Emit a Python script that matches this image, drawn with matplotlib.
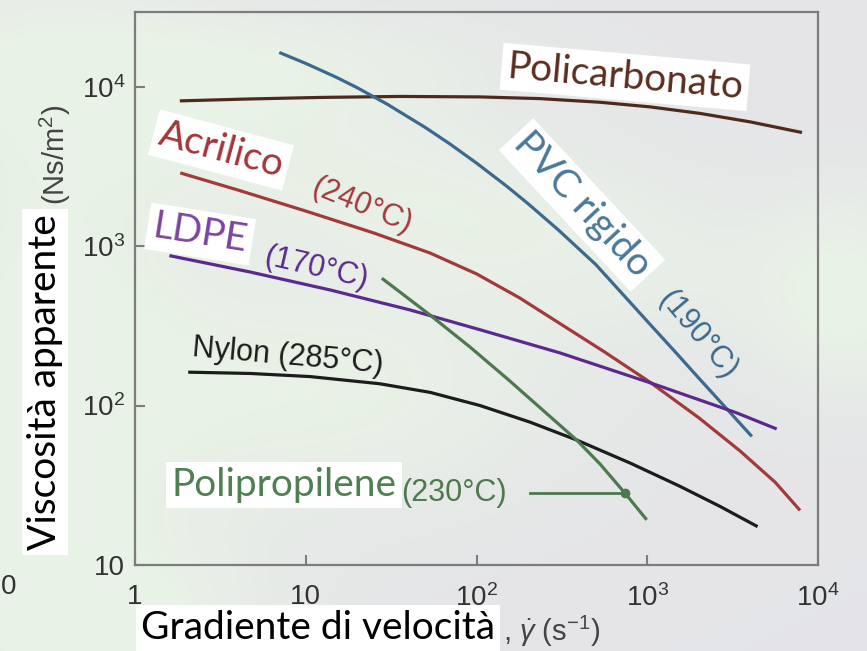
import numpy as np
import matplotlib
matplotlib.use("Agg")
import matplotlib.pyplot as plt

plt.rcParams.update({
    "font.family": ["Liberation Sans", "DejaVu Sans"],
    "mathtext.fontset": "custom",
    "mathtext.rm": "Liberation Sans",
    "mathtext.it": "Liberation Sans:italic",
    "mathtext.bf": "Liberation Sans:bold",
})

# ---- data: shear rate (1/s) vs apparent viscosity (Ns/m^2) ----
x_policarbonato = [1.83, 4.72, 12.1, 35.7, 105, 235, 529, 1040, 2040, 4000, 8060]
y_policarbonato = [8150, 8380, 8565, 8690, 8630, 8420, 7990, 7470, 6800, 6020, 5160]

x_pvc = [7, 10, 15, 20, 30, 50, 70, 100, 150, 200, 300, 500, 700, 1000, 1500,
         2000, 3000, 4100]
y_pvc = [16400, 14000, 11500, 9860, 7770, 5560, 4370, 3320, 2380, 1850, 1270,
         766, 515, 338, 210, 149, 92.5, 64]

x_acrilico = [1.84, 4, 10, 25, 53.5, 100, 178, 308, 562, 1040, 2000, 3490, 5620, 7850]
y_acrilico = [2880, 2250, 1660, 1210, 905, 670, 475, 327, 217, 140, 84, 52, 33, 22]

x_ldpe = [1.59, 4.7, 13.9, 40.8, 106, 308, 1040, 3340, 5730]
y_ldpe = [872, 689, 531, 398, 298, 214, 139, 90, 71.3]

x_nylon = [2.05, 4.72, 10.6, 27.2, 53.5, 105, 206, 386, 794, 1560, 2670, 4430]
y_nylon = [162, 159, 152, 137, 121, 100, 78.7, 60.8, 43.6, 31.1, 23.3, 17.4]

x_pp = [27.9, 53.4, 91.6, 154, 252, 386, 529, 741, 993]
y_pp = [629, 370, 233, 145, 91, 60.8, 43, 28.2, 19.2]

# marked point on the polypropylene curve and start of its pointer line
pp_marker = (741, 28.2)
pp_pointer_start = 206

x_ticks = [1, 10, 100, 1000, 10000]
x_ticklabels = ["1", "10", r"$10^{2}$", r"$10^{3}$", r"$10^{4}$"]
y_ticks = [10, 100, 1000, 10000]
y_ticklabels = ["10", r"$10^{2}$", r"$10^{3}$", r"$10^{4}$"]

# ---- figure ----
W, H = 867, 651
fig = plt.figure(figsize=(W / 100, H / 100), dpi=100)


def fx(px):
    return px / W


def fy(py):
    return 1 - py / H


# soft grey / pale green backdrop
bg = fig.add_axes([0, 0, 1, 1], zorder=-10)
yy, xx = np.mgrid[0:H, 0:W].astype(float)


def blob(cx, cy, sx, sy, amp, ang=0.0):
    c, s = np.cos(np.radians(ang)), np.sin(np.radians(ang))
    u = (xx - cx) * c + (yy - cy) * s
    v = -(xx - cx) * s + (yy - cy) * c
    return amp * np.exp(-0.5 * ((u / sx) ** 2 + (v / sy) ** 2))


w = (blob(40, 380, 110, 260, 1.0) + blob(330, 390, 170, 90, 0.9)
     + blob(420, 190, 330, 70, 0.8, 15) + blob(850, 290, 60, 70, 0.8)
     + blob(250, 60, 200, 40, 0.6) + blob(120, 620, 120, 60, 0.7))
w = np.clip(w, 0, 1)[..., None]
grey = np.array([0.898, 0.898, 0.910])
green = np.array([0.915, 0.952, 0.905])
img = grey * (1 - w) + green * w
bg.imshow(img, extent=[0, W, H, 0], aspect="auto", interpolation="bilinear")
bg.set_xlim(0, W)
bg.set_ylim(H, 0)
bg.axis("off")

ax = fig.add_axes([fx(135), fy(565), (818 - 135) / W, (565 - 12) / H])
ax.patch.set_alpha(0)
ax.set_xscale("log")
ax.set_yscale("log")
ax.set_xlim(1, 1e4)
ax.set_ylim(10, 10 ** (4 + 74.7 / 159.4))

lw = 2.3
style = dict(lw=lw, solid_capstyle="butt", solid_joinstyle="round")
ax.plot(x_policarbonato, y_policarbonato, color="#4e2a1c", **style)
ax.plot(x_pvc, y_pvc, color="#3c6a8f", **style)
ax.plot(x_acrilico, y_acrilico, color="#a23a3a", **style)
ax.plot(x_ldpe, y_ldpe, color="#5b2a8c", **style)
ax.plot(x_nylon, y_nylon, color="#1c1c1c", **style)
ax.plot(x_pp, y_pp, color="#4d7a4d", **style)
ax.plot([pp_pointer_start, pp_marker[0]], [pp_marker[1], pp_marker[1]],
        color="#4d7a4d", lw=2.0)
ax.plot([pp_marker[0]], [pp_marker[1]], "o", color="#4d7a4d", ms=6)

for side in ["left", "right", "top", "bottom"]:
    ax.spines[side].set_color("#7c7c7c")
    ax.spines[side].set_linewidth(1.6)

ax.set_xticks(x_ticks)
ax.set_xticklabels(x_ticklabels)
ax.set_yticks(y_ticks)
ax.set_yticklabels(y_ticklabels)
ax.minorticks_off()
ax.tick_params(direction="in", length=7, width=1.5, color="#7c7c7c",
               labelsize=20, labelcolor="#333333")
ax.tick_params(axis="x", pad=14)
ax.tick_params(axis="y", pad=7)

# ---- chart annotations (Helvetica-style) ----
small = dict(fontsize=22, ha="center", va="center", rotation_mode="anchor")
fig.text(fx(362), fy(206), "(240°C)", color="#a23a3a", rotation=-22, **small)
fig.text(fx(316), fy(268), "(170°C)", color="#5b2a8c", rotation=-13, **small)
fig.text(fx(698), fy(335), "(190°C)", color="#3c6a8f", rotation=-50, **small)
fig.text(fx(288), fy(356), "Nylon (285°C)", color="#1c1c1c", rotation=-5, **small)
fig.text(fx(454), fy(493), "(230°C)", color="#4d7a4d", rotation=0, **small)
fig.text(fx(55), fy(155), r"(Ns/m$^{2}$)", color="#444444", fontsize=21,
         rotation=90, ha="center", va="center")
fig.text(fx(503), fy(631), r", $\dot{\gamma}$ (s$^{-1}$)", color="#444444",
         fontsize=21, ha="left", va="center")
fig.text(fx(1), fy(587), "0", color="#333333", fontsize=20, ha="left", va="center")

# ---- slide-style labels on white boxes ----
big = dict(fontsize=28, family=["Lato", "DejaVu Sans"], ha="center", va="center",
           rotation_mode="anchor")
box = dict(facecolor="white", edgecolor="none", pad=4)
fig.text(fx(625), fy(77), "Policarbonato", color="#5b2e1f", rotation=-5,
         bbox=box, **big)
fig.text(fx(221), fy(150), "Acrilico", color="#a3363a", rotation=-15,
         bbox=box, **big)
fig.text(fx(200), fy(234), "LDPE", color="#7b45a0", rotation=-9,
         bbox=box, **big)
fig.text(fx(582), fy(205), "PVC rigido", color="#4a7898", rotation=-47,
         bbox=box, **big)
fig.text(fx(284), fy(485), "Polipropilene", color="#4f7f52", rotation=0,
         bbox=box, **big)
fig.text(fx(45), fy(382), "Viscosità apparente", color="black", rotation=90,
         bbox=box, **big)
fig.text(fx(318), fy(628), "Gradiente di velocità", color="black", rotation=0,
         bbox=box, **big)

fig.savefig("out.png", dpi=100)
